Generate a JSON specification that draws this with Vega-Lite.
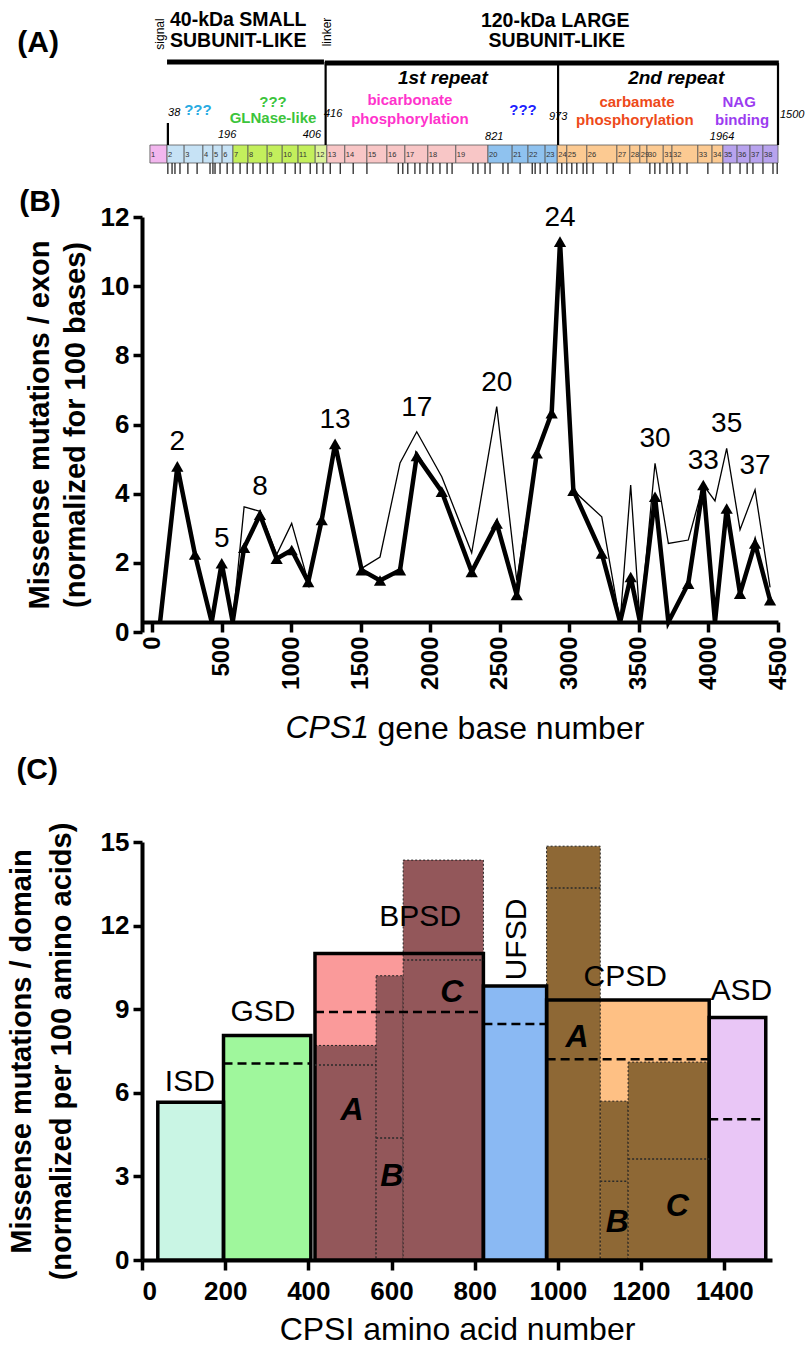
{
"$schema":"https://vega.github.io/schema/vega-lite/v6.json",
"padding":{"left":7,"top":0,"right":0,"bottom":0},
"spacing":9,
"config":{"font":"Liberation Sans","view":{"stroke":null},
"axis":{"grid":false,"domainColor":"black","domainWidth":4,"tickColor":"black","tickWidth":3.5,"tickSize":9,"labelFontWeight":"bold","labelFontSize":26,"labelColor":"black","labelPadding":4,"titleColor":"black","labelFont":"Liberation Sans","titleFont":"Liberation Sans"}},
"datasets":{
"exons":[{"n":"1","s":-5,"e":36,"d":"sig"},{"n":"2","s":36,"e":77,"d":"isd"},{"n":"3","s":77,"e":122,"d":"isd"},{"n":"4","s":122,"e":146,"d":"isd"},{"n":"5","s":146,"e":168,"d":"isd"},{"n":"6","s":168,"e":194,"d":"isd"},{"n":"7","s":194,"e":230,"d":"gsd"},{"n":"8","s":230,"e":276,"d":"gsd"},{"n":"9","s":276,"e":312,"d":"gsd"},{"n":"10","s":312,"e":350,"d":"gsd"},{"n":"11","s":350,"e":391,"d":"gsd"},{"n":"12","s":391,"e":419,"d":"lnk"},{"n":"13","s":419,"e":462,"d":"bpsd"},{"n":"14","s":462,"e":515,"d":"bpsd"},{"n":"15","s":515,"e":563,"d":"bpsd"},{"n":"16","s":563,"e":606,"d":"bpsd"},{"n":"17","s":606,"e":661,"d":"bpsd"},{"n":"18","s":661,"e":728,"d":"bpsd"},{"n":"19","s":728,"e":805,"d":"bpsd"},{"n":"20","s":805,"e":863,"d":"ufsd"},{"n":"21","s":863,"e":901,"d":"ufsd"},{"n":"22","s":901,"e":942,"d":"ufsd"},{"n":"23","s":942,"e":971,"d":"ufsd"},{"n":"24","s":971,"e":994,"d":"cpsd"},{"n":"25","s":994,"e":1042,"d":"cpsd"},{"n":"26","s":1042,"e":1114,"d":"cpsd"},{"n":"27","s":1114,"e":1145,"d":"cpsd"},{"n":"28","s":1145,"e":1169,"d":"cpsd"},{"n":"29","s":1169,"e":1186,"d":"cpsd"},{"n":"30","s":1186,"e":1225,"d":"cpsd"},{"n":"31","s":1225,"e":1246,"d":"cpsd"},{"n":"32","s":1246,"e":1308,"d":"cpsd"},{"n":"33","s":1308,"e":1342,"d":"cpsd"},{"n":"34","s":1342,"e":1368,"d":"cpsd"},{"n":"35","s":1368,"e":1402,"d":"asd"},{"n":"36","s":1402,"e":1433,"d":"asd"},{"n":"37","s":1433,"e":1464,"d":"asd"},{"n":"38","s":1464,"e":1500,"d":"asd"}],
"muts":[{"p":38},{"p":48},{"p":55},{"p":67},{"p":86},{"p":108},{"p":139},{"p":146},{"p":151},{"p":163},{"p":180},{"p":194},{"p":211},{"p":228},{"p":242},{"p":259},{"p":276},{"p":290},{"p":319},{"p":343},{"p":355},{"p":379},{"p":395},{"p":410},{"p":427},{"p":451},{"p":482},{"p":515},{"p":590},{"p":601},{"p":613},{"p":630},{"p":642},{"p":659},{"p":673},{"p":690},{"p":707},{"p":719},{"p":769},{"p":781},{"p":798},{"p":810},{"p":841},{"p":853},{"p":882},{"p":911},{"p":918},{"p":930},{"p":947},{"p":971},{"p":982},{"p":994},{"p":1006},{"p":1018},{"p":1033},{"p":1042},{"p":1057},{"p":1090},{"p":1105},{"p":1145},{"p":1193},{"p":1205},{"p":1217},{"p":1234},{"p":1248},{"p":1265},{"p":1282},{"p":1332},{"p":1368},{"p":1385},{"p":1409},{"p":1426},{"p":1440},{"p":1464},{"p":1488},{"p":1498}],
"segA":[{"x1":36,"x2":412,"y1":12.4,"y2":12.4,"k":"bar"},{"x1":414,"x2":1502,"y1":12.6,"y2":12.6,"k":"bar"},{"x1":416,"x2":416,"y1":12.4,"y2":29,"k":"tick"},{"x1":973,"x2":973,"y1":12.6,"y2":29,"k":"tick"},{"x1":1500,"x2":1500,"y1":12.6,"y2":29,"k":"tick"},{"x1":38,"x2":38,"y1":24.6,"y2":29,"k":"tick"}],
"annA":[{"t":"(A)","ax":-273,"ay":8.6,"st":"panel"},{"t":"signal","ax":19,"ay":6.8,"st":"vert"},{"t":"linker","ax":419,"ay":6.4,"st":"vert"},{"t":"40-kDa SMALL","ax":43,"ay":4,"st":"headL"},{"t":"SUBUNIT-LIKE","ax":43,"ay":8.2,"st":"headL"},{"t":"120-kDa LARGE","ax":966,"ay":4.2,"st":"head"},{"t":"SUBUNIT-LIKE","ax":970,"ay":8.2,"st":"head"},{"t":"1st repeat","ax":697,"ay":15.6,"st":"rep"},{"t":"2nd repeat","ax":1256,"ay":15.6,"st":"rep"},{"t":"???","ax":110,"ay":22,"st":"dom","c":"cyan"},{"t":"???","ax":290,"ay":20.4,"st":"dom","c":"green"},{"t":"GLNase-like","ax":290,"ay":23.6,"st":"dom","c":"green"},{"t":"bicarbonate","ax":618,"ay":20,"st":"dom","c":"magenta"},{"t":"phosphorylation","ax":618,"ay":23.8,"st":"dom","c":"magenta"},{"t":"???","ax":889,"ay":22,"st":"dom","c":"blue"},{"t":"carbamate","ax":1162,"ay":20.4,"st":"dom","c":"red"},{"t":"phosphorylation","ax":1157,"ay":24,"st":"dom","c":"red"},{"t":"NAG","ax":1407,"ay":20.4,"st":"dom","c":"purple"},{"t":"binding","ax":1414,"ay":24,"st":"dom","c":"purple"},{"t":"38","ax":53,"ay":22.6,"st":"num"},{"t":"196","ax":180,"ay":27,"st":"num"},{"t":"406","ax":383,"ay":27,"st":"num"},{"t":"416","ax":434,"ay":22.8,"st":"num"},{"t":"821","ax":820,"ay":27.4,"st":"num"},{"t":"973","ax":973,"ay":23.4,"st":"num"},{"t":"1964","ax":1366,"ay":27.4,"st":"num"},{"t":"1500","ax":1534,"ay":23,"st":"num"}],
"cps1":[
{"pos":58,"val":0,"series":"bold"},{"pos":182,"val":4.5,"series":"bold"},{"pos":309,"val":1.95,"series":"bold"},{"pos":429,"val":0,"series":"bold"},{"pos":501,"val":1.7,"series":"bold"},{"pos":580,"val":0,"series":"bold"},{"pos":662,"val":2.15,"series":"bold"},{"pos":776,"val":3.1,"series":"bold"},{"pos":896,"val":1.83,"series":"bold"},{"pos":1004,"val":2.08,"series":"bold"},{"pos":1123,"val":1.16,"series":"bold"},{"pos":1220,"val":2.95,"series":"bold"},{"pos":1316,"val":5.15,"series":"bold"},{"pos":1507,"val":1.5,"series":"bold"},{"pos":1639,"val":1.2,"series":"bold"},{"pos":1783,"val":1.5,"series":"bold"},{"pos":1903,"val":4.8,"series":"bold"},{"pos":2083,"val":3.77,"series":"bold"},{"pos":2298,"val":1.45,"series":"bold"},{"pos":2478,"val":2.85,"series":"bold"},{"pos":2622,"val":0.78,"series":"bold"},{"pos":2766,"val":4.88,"series":"bold"},{"pos":2873,"val":6.04,"series":"bold"},{"pos":2933,"val":11.0,"series":"bold"},{"pos":3029,"val":3.8,"series":"bold"},{"pos":3233,"val":1.98,"series":"bold"},{"pos":3365,"val":0,"series":"bold"},{"pos":3441,"val":1.3,"series":"bold"},{"pos":3508,"val":0,"series":"bold"},{"pos":3616,"val":3.62,"series":"bold"},{"pos":3712,"val":0,"series":"bold"},{"pos":3855,"val":1.11,"series":"bold"},{"pos":3963,"val":3.96,"series":"bold"},{"pos":4047,"val":0,"series":"bold"},{"pos":4131,"val":3.28,"series":"bold"},{"pos":4227,"val":0.82,"series":"bold"},{"pos":4335,"val":2.27,"series":"bold"},{"pos":4443,"val":0.63,"series":"bold"},
{"pos":58,"val":0,"series":"light"},{"pos":182,"val":4.5,"series":"light","lab":"2"},{"pos":309,"val":1.95,"series":"light"},{"pos":429,"val":0,"series":"light"},{"pos":501,"val":1.7,"series":"light","lab":"5"},{"pos":580,"val":0,"series":"light"},{"pos":662,"val":3.33,"series":"light"},{"pos":776,"val":3.2,"series":"light","lab":"8"},{"pos":896,"val":1.95,"series":"light"},{"pos":1004,"val":2.85,"series":"light"},{"pos":1123,"val":1.16,"series":"light"},{"pos":1220,"val":2.95,"series":"light"},{"pos":1316,"val":5.15,"series":"light","lab":"13"},{"pos":1507,"val":1.55,"series":"light"},{"pos":1639,"val":1.88,"series":"light"},{"pos":1783,"val":4.6,"series":"light"},{"pos":1903,"val":5.5,"series":"light","lab":"17"},{"pos":2083,"val":4.2,"series":"light"},{"pos":2298,"val":2.0,"series":"light"},{"pos":2478,"val":6.23,"series":"light","lab":"20"},{"pos":2622,"val":1.2,"series":"light"},{"pos":2766,"val":4.88,"series":"light"},{"pos":2873,"val":6.04,"series":"light"},{"pos":2933,"val":11.0,"series":"light","lab":"24"},{"pos":3029,"val":3.8,"series":"light"},{"pos":3233,"val":3.04,"series":"light"},{"pos":3365,"val":0,"series":"light"},{"pos":3441,"val":3.96,"series":"light"},{"pos":3508,"val":0,"series":"light"},{"pos":3616,"val":4.59,"series":"light","lab":"30"},{"pos":3712,"val":2.27,"series":"light"},{"pos":3855,"val":2.37,"series":"light"},{"pos":3963,"val":3.96,"series":"light","lab":"33"},{"pos":4047,"val":3.5,"series":"light"},{"pos":4131,"val":5.02,"series":"light","lab":"35"},{"pos":4227,"val":2.67,"series":"light"},{"pos":4335,"val":3.82,"series":"light","lab":"37"},{"pos":4443,"val":1.0,"series":"light"}],
"domains":[{"dom":"ISD","start":38,"end":196,"top":5.66,"lx":115,"ly":6.4},{"dom":"GSD","start":196,"end":406,"top":8.06,"mean":7.05,"lx":291,"ly":8.9},{"dom":"BPSD","start":416,"end":821,"top":11.0,"mean":8.9,"lx":669,"ly":12.3},{"dom":"UFSD","start":821,"end":973,"top":9.83,"mean":8.47,"lx":902,"ly":11.5},{"dom":"CPSD","start":973,"end":1364,"top":9.33,"mean":7.2,"lx":1162,"ly":10.15},{"dom":"ASD","start":1364,"end":1500,"top":8.7,"mean":5.05,"lx":1441,"ly":9.65}],
"subs":[{"dom":"BPSD","sub":"A","start":416,"end":563,"top":7.7,"avg":7.0,"lx":505,"ly":5.4},{"dom":"BPSD","sub":"B","start":563,"end":628,"top":10.2,"avg":4.38,"lx":601,"ly":3.0},{"dom":"BPSD","sub":"C","start":628,"end":821,"top":14.35,"avg":10.77,"lx":745,"ly":9.6},{"dom":"CPSD","sub":"A","start":973,"end":1102,"top":14.85,"avg":13.35,"lx":1046,"ly":8.0},{"dom":"CPSD","sub":"B","start":1102,"end":1169,"top":5.7,"avg":2.83,"lx":1143,"ly":1.35},{"dom":"CPSD","sub":"C","start":1169,"end":1364,"top":7.1,"avg":3.62,"lx":1287,"ly":1.95}]
},
"vconcat":[
{"width":636,"height":177,
"layer":[
{"data":{"name":"exons"},"mark":{"type":"rect","stroke":"#555555","strokeWidth":0.8},
"encoding":{"x":{"field":"s","type":"quantitative","scale":{"domain":[-24,1500],"nice":false,"zero":false},"axis":null},"x2":{"field":"e"},
"y":{"datum":29,"type":"quantitative","scale":{"domain":[0,35.4],"reverse":true,"nice":false,"zero":false},"axis":null},"y2":{"datum":32.6},
"fill":{"field":"d","type":"nominal","scale":{"domain":["sig","isd","gsd","lnk","bpsd","ufsd","cpsd","asd"],"range":["#f2b6ee","#c6e2f5","#c3ef5c","#dcf29a","#f8c6c6","#8fc2ef","#fcca92","#b8a3ee"]},"legend":null}}},
{"data":{"name":"exons"},"mark":{"type":"text","align":"left","dx":1,"baseline":"middle","fontSize":7.5,"color":"#333333"},
"encoding":{"x":{"field":"s","type":"quantitative"},"y":{"datum":30.9,"type":"quantitative"},"text":{"field":"n"}}},
{"data":{"name":"muts"},"mark":{"type":"rule","color":"black","strokeWidth":1.1},
"encoding":{"x":{"field":"p","type":"quantitative"},"y":{"datum":32.6,"type":"quantitative"},"y2":{"datum":34.8}}},
{"data":{"name":"segA"},"mark":{"type":"rule","color":"black"},
"encoding":{"x":{"field":"x1","type":"quantitative"},"x2":{"field":"x2"},"y":{"field":"y1","type":"quantitative"},"y2":{"field":"y2"},
"strokeWidth":{"field":"k","type":"nominal","scale":{"domain":["bar","tick"],"range":[5,2.2]},"legend":null}}},
{"data":{"name":"annA"},"transform":[{"filter":"datum.st==='panel'"}],"mark":{"type":"text","fontSize":30,"fontWeight":"bold","baseline":"middle"},
"encoding":{"x":{"field":"ax","type":"quantitative"},"y":{"field":"ay","type":"quantitative"},"text":{"field":"t"}}},
{"data":{"name":"annA"},"transform":[{"filter":"datum.st==='vert'"}],"mark":{"type":"text","fontSize":12,"angle":270,"baseline":"middle"},
"encoding":{"x":{"field":"ax","type":"quantitative"},"y":{"field":"ay","type":"quantitative"},"text":{"field":"t"}}},
{"data":{"name":"annA"},"transform":[{"filter":"datum.st==='headL'"}],"mark":{"type":"text","fontSize":19.5,"fontWeight":"bold","align":"left","baseline":"middle"},
"encoding":{"x":{"field":"ax","type":"quantitative"},"y":{"field":"ay","type":"quantitative"},"text":{"field":"t"}}},
{"data":{"name":"annA"},"transform":[{"filter":"datum.st==='head'"}],"mark":{"type":"text","fontSize":19.5,"fontWeight":"bold","baseline":"middle"},
"encoding":{"x":{"field":"ax","type":"quantitative"},"y":{"field":"ay","type":"quantitative"},"text":{"field":"t"}}},
{"data":{"name":"annA"},"transform":[{"filter":"datum.st==='rep'"}],"mark":{"type":"text","fontSize":19,"fontWeight":"bold","fontStyle":"italic","baseline":"middle"},
"encoding":{"x":{"field":"ax","type":"quantitative"},"y":{"field":"ay","type":"quantitative"},"text":{"field":"t"}}},
{"data":{"name":"annA"},"transform":[{"filter":"datum.st==='dom'"}],"mark":{"type":"text","fontSize":15,"fontWeight":"bold","baseline":"middle"},
"encoding":{"x":{"field":"ax","type":"quantitative"},"y":{"field":"ay","type":"quantitative"},"text":{"field":"t"},
"color":{"field":"c","type":"nominal","scale":{"domain":["cyan","green","magenta","blue","red","purple"],"range":["#29abe2","#3cc43c","#ff33cc","#1f1fff","#ee4a1a","#9b3cf0"]},"legend":null}}},
{"data":{"name":"annA"},"transform":[{"filter":"datum.st==='num'"}],"mark":{"type":"text","fontSize":11,"fontStyle":"italic","baseline":"middle"},
"encoding":{"x":{"field":"ax","type":"quantitative"},"y":{"field":"ay","type":"quantitative"},"text":{"field":"t"}}}
]},
{"width":636,"height":415,
"data":{"name":"cps1"},
"layer":[
{"transform":[{"filter":"datum.series==='light'"}],"mark":{"type":"line","color":"black","strokeWidth":1.3},
"encoding":{"x":{"field":"pos","type":"quantitative","scale":{"domain":[-72,4500],"nice":false,"zero":false},
"axis":{"title":"gene base number","titleFontSize":32,"titleFontWeight":"normal","titleX":235,"titleY":106,"titleAlign":"left","titleBaseline":"middle","values":[0,500,1000,1500,2000,2500,3000,3500,4000,4500],"format":"d","labelAngle":270,"labelFontSize":24,"tickSize":10}},
"y":{"field":"val","type":"quantitative","scale":{"domain":[0,12],"nice":false},
"axis":{"title":["Missense mutations / exon","(normalized for 100 bases)"],"titleFontSize":29,"titleFontWeight":"bold","titleLineHeight":36,"titlePadding":10,"values":[0,2,4,6,8,10,12],"position":10}}}},
{"transform":[{"filter":"datum.series==='bold'"}],"mark":{"type":"line","color":"black","strokeWidth":4.5},
"encoding":{"x":{"field":"pos","type":"quantitative"},"y":{"field":"val","type":"quantitative"}}},
{"transform":[{"filter":"datum.series==='bold' && datum.val>0"}],"mark":{"type":"point","shape":"triangle-up","filled":true,"color":"black","size":150,"opacity":1},
"encoding":{"x":{"field":"pos","type":"quantitative"},"y":{"field":"val","type":"quantitative"}}},
{"transform":[{"filter":"datum.series==='light' && datum.lab"}],"mark":{"type":"text","fontSize":28,"baseline":"middle","dy":-24},
"encoding":{"x":{"field":"pos","type":"quantitative"},"y":{"field":"val","type":"quantitative"},"text":{"field":"lab"}}},
{"data":{"values":[{}]},"mark":{"type":"text","text":"(B)","fontSize":30,"fontWeight":"bold","baseline":"middle"},
"encoding":{"x":{"datum":-805,"type":"quantitative"},"y":{"datum":12.15,"type":"quantitative"}}},
{"data":{"values":[{}]},"mark":{"type":"text","text":"CPS1","fontSize":32,"fontStyle":"italic","align":"right","baseline":"middle"},
"encoding":{"x":{"datum":1560,"type":"quantitative"},"y":{"datum":-3.07,"type":"quantitative"}}}
]},
{"width":630,"height":418,
"resolve":{"scale":{"color":"independent","fill":"independent"}},
"layer":[
{"data":{"name":"domains"},"mark":{"type":"rect"},
"encoding":{"x":{"field":"start","type":"quantitative","scale":{"domain":[0,1515],"nice":false,"zero":false},
"axis":{"title":"CPSI amino acid number","titleFontSize":32,"titleFontWeight":"normal","titlePadding":10,"values":[0,200,400,600,800,1000,1200,1400],"format":"d","labelAngle":0,"tickSize":10,"labelPadding":8}},
"x2":{"field":"end"},
"y":{"field":"top","type":"quantitative","scale":{"domain":[0,15],"nice":false},
"axis":{"title":["Missense mutations / domain","(normalized per 100 amino acids)"],"titleFontSize":29,"titleFontWeight":"bold","titleLineHeight":40,"titlePadding":24,"values":[0,3,6,9,12,15]}},
"y2":{"datum":0},
"color":{"field":"dom","type":"nominal","scale":{"domain":["ISD","GSD","BPSD","UFSD","CPSD","ASD"],"range":["#c9f5e4","#9ff79c","#fa9a9a","#8ab9f3","#fec084","#e9c6f6"]},"legend":null}}},
{"data":{"name":"subs"},"mark":{"type":"rect","stroke":"#222222","strokeWidth":1,"strokeDash":[2,2]},
"encoding":{"x":{"field":"start","type":"quantitative"},"x2":{"field":"end"},"y":{"field":"top","type":"quantitative"},"y2":{"datum":0},
"fill":{"field":"dom","type":"nominal","scale":{"domain":["BPSD","CPSD"],"range":["#93575a","#8e6835"]},"legend":null}}},
{"data":{"name":"domains"},"mark":{"type":"rect","filled":false,"stroke":"black","strokeWidth":3.5},
"encoding":{"x":{"field":"start","type":"quantitative"},"x2":{"field":"end"},"y":{"field":"top","type":"quantitative"},"y2":{"datum":0}}},
{"data":{"name":"domains"},"transform":[{"filter":"datum.mean != null"}],"mark":{"type":"rule","color":"black","strokeWidth":2.5,"strokeDash":[9,5]},
"encoding":{"x":{"field":"start","type":"quantitative"},"x2":{"field":"end"},"y":{"field":"mean","type":"quantitative"}}},
{"data":{"name":"subs"},"mark":{"type":"rule","color":"#2a2a2a","strokeWidth":1.5,"strokeDash":[2,2]},
"encoding":{"x":{"field":"start","type":"quantitative"},"x2":{"field":"end"},"y":{"field":"avg","type":"quantitative"}}},
{"data":{"name":"domains"},"transform":[{"filter":"datum.dom !== 'UFSD'"}],"mark":{"type":"text","fontSize":30,"baseline":"middle"},
"encoding":{"x":{"field":"lx","type":"quantitative"},"y":{"field":"ly","type":"quantitative"},"text":{"field":"dom"}}},
{"data":{"name":"domains"},"transform":[{"filter":"datum.dom === 'UFSD'"}],"mark":{"type":"text","fontSize":30,"baseline":"middle","angle":270},
"encoding":{"x":{"field":"lx","type":"quantitative"},"y":{"field":"ly","type":"quantitative"},"text":{"field":"dom"}}},
{"data":{"name":"subs"},"mark":{"type":"text","fontSize":32,"fontWeight":"bold","fontStyle":"italic","baseline":"middle"},
"encoding":{"x":{"field":"lx","type":"quantitative"},"y":{"field":"ly","type":"quantitative"},"text":{"field":"sub"}}},
{"data":{"values":[{}]},"mark":{"type":"text","text":"(C)","fontSize":30,"fontWeight":"bold","baseline":"middle"},
"encoding":{"x":{"datum":-252,"type":"quantitative"},"y":{"datum":17.6,"type":"quantitative"}}}
]}
]}
